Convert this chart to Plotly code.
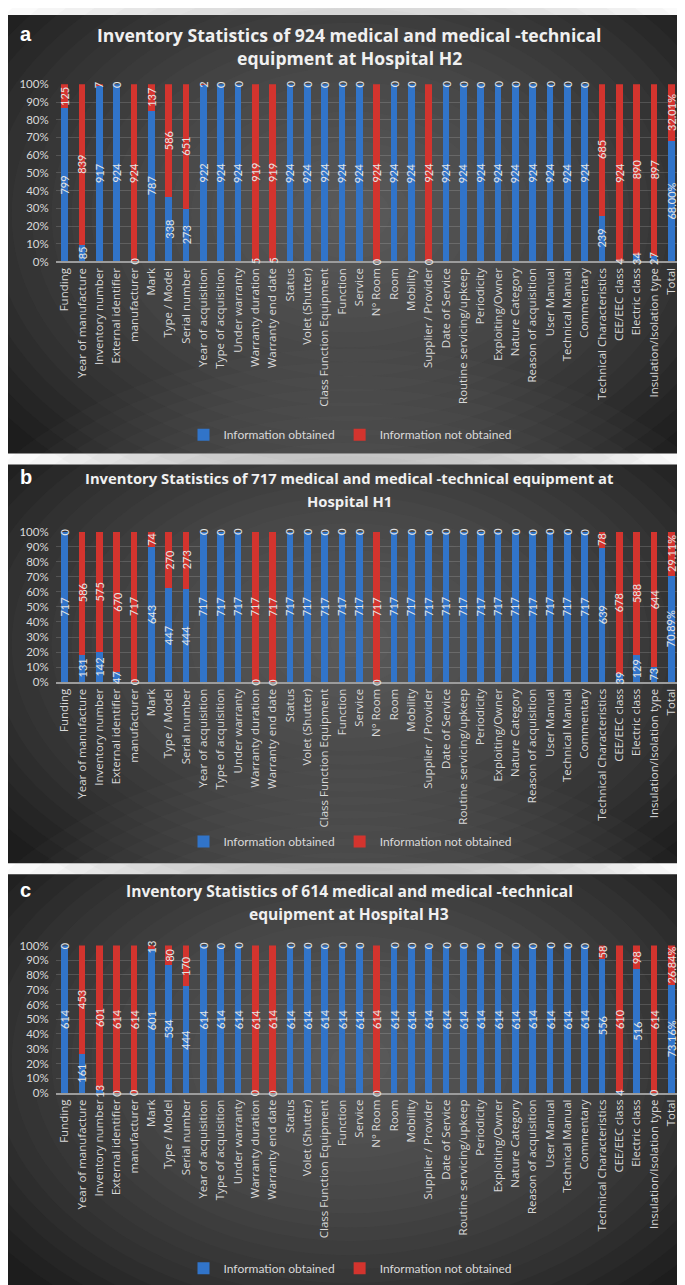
import plotly.graph_objects as go

categories = [
    "Funding", "Year of manufacture", "Inventory number", "External identifier",
    "manufacturer", "Mark", "Type / Model", "Serial number", "Year of acquisition",
    "Type of acquisition", "Under warranty", "Warranty duration", "Warranty end date",
    "Status", "Volet (Shutter)", "Class Function Equipment", "Function", "Service",
    "N° Room", "Room", "Mobility", "Supplier / Provider", "Date of Service",
    "Routine servicing/upkeep", "Periodicity", "Exploiting/Owner", "Nature Category",
    "Reason of acquisition", "User Manual", "Technical Manual", "Commentary",
    "Technical Characteristics", "CEE/EEC class", "Electric class",
    "Insulation/Isolation type", "Total",
]

# Hospital H2 (924 items) - last value (Total) is a percentage
h2_obtained = [799, 85, 917, 924, 0, 787, 338, 273, 922, 924, 924, 5, 5,
               924, 924, 924, 924, 924, 0, 924, 924, 0, 924, 924, 924, 924, 924,
               924, 924, 924, 924, 239, 4, 34, 27, 68.00]
h2_not_obtained = [125, 839, 7, 0, 924, 137, 586, 651, 2, 0, 0, 919, 919,
                   0, 0, 0, 0, 0, 924, 0, 0, 924, 0, 0, 0, 0, 0,
                   0, 0, 0, 0, 685, 924, 890, 897, 32.01]

# Hospital H1 (717 items)
h1_obtained = [717, 131, 142, 47, 0, 643, 447, 444, 717, 717, 717, 0, 0,
               717, 717, 717, 717, 717, 0, 717, 717, 717, 717, 717, 717, 717, 717,
               717, 717, 717, 717, 639, 39, 129, 73, 70.89]
h1_not_obtained = [0, 586, 575, 670, 717, 74, 270, 273, 0, 0, 0, 717, 717,
                   0, 0, 0, 0, 0, 717, 0, 0, 0, 0, 0, 0, 0, 0,
                   0, 0, 0, 0, 78, 678, 588, 644, 29.11]

# Hospital H3 (614 items)
h3_obtained = [614, 161, 13, 0, 0, 601, 534, 444, 614, 614, 614, 0, 0,
               614, 614, 614, 614, 614, 0, 614, 614, 614, 614, 614, 614, 614, 614,
               614, 614, 614, 614, 556, 4, 516, 0, 73.16]
h3_not_obtained = [0, 453, 601, 614, 614, 13, 80, 170, 0, 0, 0, 614, 614,
                   0, 0, 0, 0, 0, 614, 0, 0, 0, 0, 0, 0, 0, 0,
                   0, 0, 0, 0, 58, 610, 98, 614, 26.84]

series_names = ["Information obtained", "Information not obtained"]
panel_letters = ["a", "b", "c"]
titles = [
    ["Inventory Statistics of 924 medical and medical -technical", "equipment at Hospital H2"],
    ["Inventory Statistics of 717 medical and medical -technical equipment at", "Hospital H1"],
    ["Inventory Statistics of 614 medical and medical -technical", "equipment at Hospital H3"],
]

W, H = 685, 1285
BLUE = "#3174c9"
RED = "#d3342e"
LABEL_COL = "#e4e4e4"
TICK_COL = "#d9d9d9"


def fy(px):
    return 1 - px / H


def fx(px):
    return px / W


layout_specs = [
    dict(top=0, bottom=443, y100=70, y0=249, t1=20, t2=43, leg=424, tsize=17.6),
    dict(top=454, bottom=857, y100=522, y0=674, t1=468, t2=491, leg=835, tsize=14.8),
    dict(top=868, bottom=1285, y100=940, y0=1089, t1=885, t2=908, leg=1266, tsize=15.6),
]
data_sets = [
    (h2_obtained, h2_not_obtained),
    (h1_obtained, h1_not_obtained),
    (h3_obtained, h3_not_obtained),
]

fig = go.Figure()
shapes = []
annotations = []

for i, (spec, (obt, nob)) in enumerate(zip(layout_specs, data_sets)):
    sfx = "" if i == 0 else str(i + 1)
    xa, ya = "x" + sfx, "y" + sfx
    leg = "legend" if i == 0 else "legend" + str(i + 1)

    # panel background (radial-like gradient via stacked ellipses)
    shapes.append(dict(type="rect", xref="paper", yref="paper", x0=0, x1=1,
                       y0=fy(spec["bottom"]), y1=fy(spec["top"]),
                       fillcolor="#1d1d1d", line=dict(width=0), layer="below"))
    cx = 0.5
    cy_px = (spec["top"] + spec["bottom"]) / 2 - 20
    ph = spec["bottom"] - spec["top"]
    n_layers = 22
    for k in range(n_layers):
        s = 1 - k / n_layers
        rx = 0.64 * s
        ry_px = ph * 0.74 * s
        shapes.append(dict(type="circle", xref="paper", yref="paper",
                           x0=cx - rx, x1=cx + rx,
                           y0=fy(cy_px + ry_px), y1=fy(cy_px - ry_px),
                           fillcolor="rgba(140,140,140,0.042)",
                           line=dict(width=0), layer="below"))

    fig.add_trace(go.Bar(x=categories, y=obt, name=series_names[0],
                         marker=dict(color=BLUE, line=dict(width=0)),
                         xaxis=xa, yaxis=ya, legend=leg, hoverinfo="skip"))
    fig.add_trace(go.Bar(x=categories, y=nob, name=series_names[1],
                         marker=dict(color=RED, line=dict(width=0)),
                         xaxis=xa, yaxis=ya, legend=leg, hoverinfo="skip"))

    # data labels, centered on each stacked segment
    for j, cat in enumerate(categories):
        o, n = obt[j], nob[j]
        tot = o + n
        p = o / tot * 100
        is_pct = cat == "Total"
        for val, ymid in ((o, p / 2), (n, p + (100 - p) / 2)):
            txt = f"{val:.2f}%" if is_pct else f"{int(val)}"
            annotations.append(dict(x=cat, y=ymid, xref=xa, yref=ya, text=txt,
                                    textangle=-90, showarrow=False,
                                    font=dict(family="Lato", size=11, color=LABEL_COL)))

    # titles
    for line_txt, ypx in ((titles[i][0], spec["t1"]), (titles[i][1], spec["t2"])):
        annotations.append(dict(x=fx(341), y=fy(ypx), xref="paper", yref="paper",
                                text=f"<b>{line_txt}</b>", showarrow=False,
                                xanchor="center", yanchor="middle",
                                font=dict(family="Open Sans", size=spec["tsize"], color="#f0f0f0")))
    annotations.append(dict(x=fx(10), y=fy(spec["t1"] - 1), xref="paper", yref="paper",
                            text=f"<b>{panel_letters[i]}</b>", showarrow=False,
                            xanchor="left", yanchor="middle",
                            font=dict(family="Liberation Sans", size=20, color="#ffffff")))

    fig.update_layout(**{
        "xaxis" + sfx: dict(domain=[fx(48), fx(672)], anchor=ya,
                            categoryorder="array", categoryarray=categories,
                            tickangle=-90, showgrid=False, showline=True,
                            linecolor="#9c9c9c", linewidth=2, ticks="",
                            tickfont=dict(family="Open Sans", size=11.5, color=TICK_COL)),
        "yaxis" + sfx: dict(domain=[fy(spec["y0"]), fy(spec["y100"])], anchor=xa,
                            range=[0, 100], dtick=10, ticksuffix="%",
                            showgrid=True, gridcolor="rgba(255,255,255,0.15)", gridwidth=1,
                            zeroline=False, showline=False, ticks="outside",
                            ticklen=4, tickcolor="rgba(0,0,0,0)",
                            tickfont=dict(family="Lato", size=11.5, color=TICK_COL)),
        leg: dict(orientation="h", x=0.5, xanchor="center", y=fy(spec["leg"]),
                  yanchor="middle", bgcolor="rgba(0,0,0,0)",
                  font=dict(family="Lato", size=12, color=TICK_COL),
                  itemwidth=30, traceorder="normal"),
    })

fig.update_layout(
    width=W, height=H,
    margin=dict(l=0, r=0, t=0, b=0),
    paper_bgcolor="#ffffff",
    plot_bgcolor="rgba(0,0,0,0)",
    barmode="stack", barnorm="percent", bargap=0.6,
    shapes=shapes, annotations=annotations,
    showlegend=True,
)

fig.write_html("out.html")
